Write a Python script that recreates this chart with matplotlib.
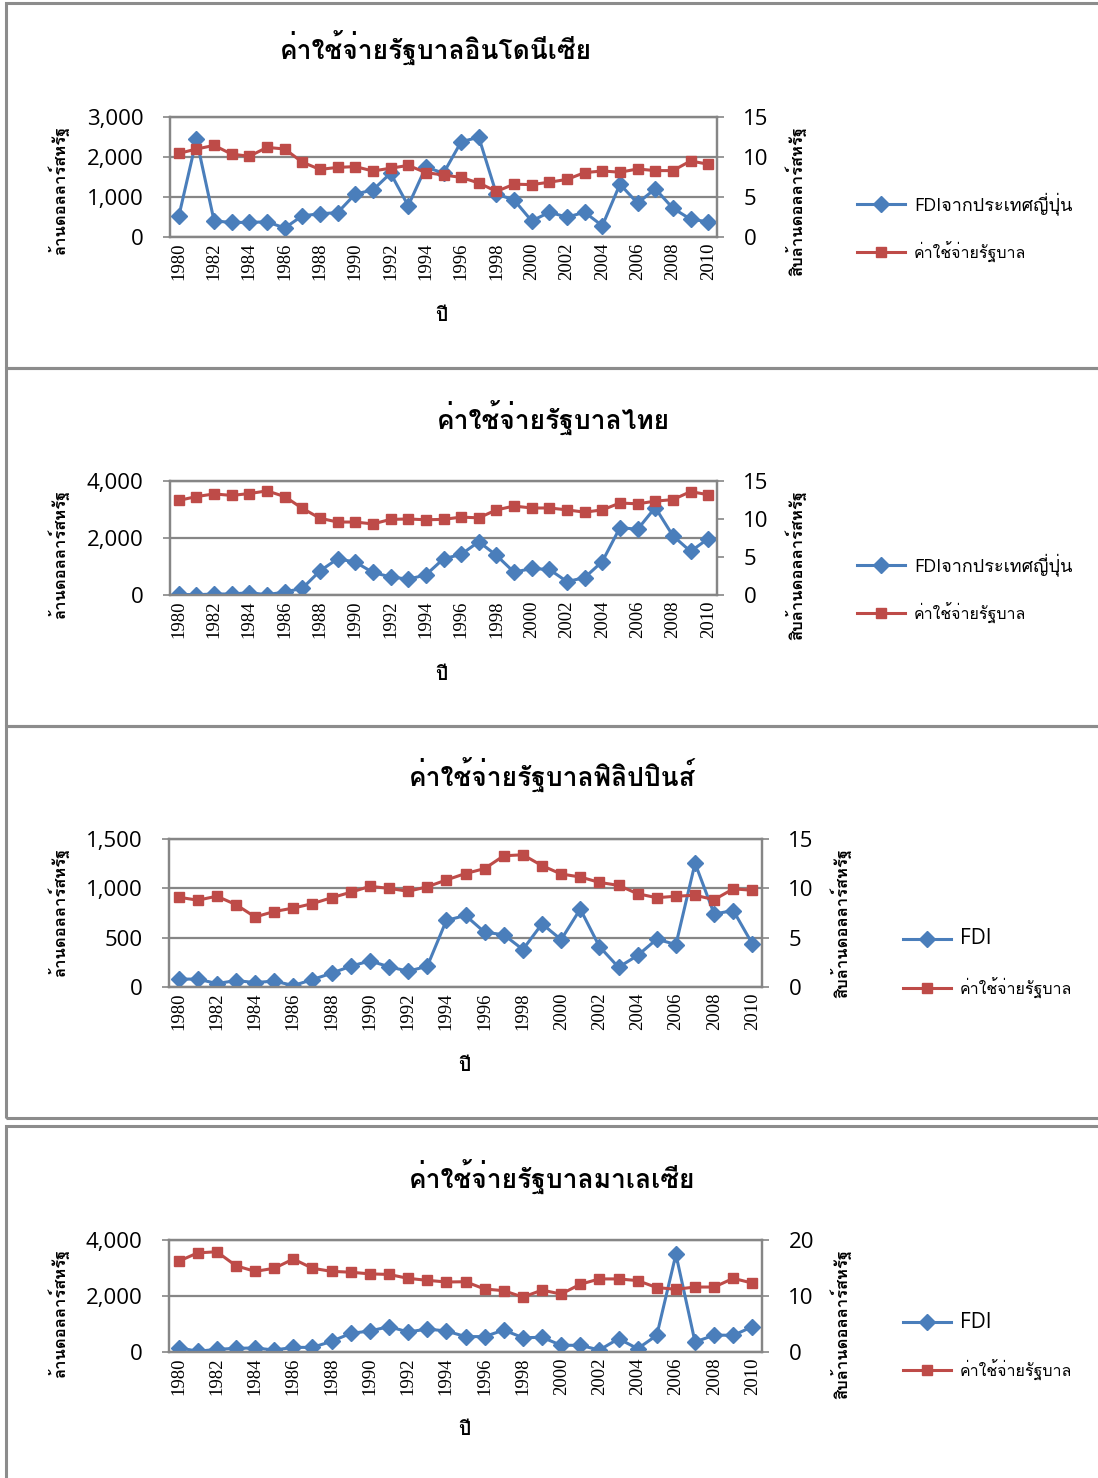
import matplotlib
matplotlib.use("Agg")
import matplotlib.pyplot as plt
from matplotlib import font_manager
from matplotlib.ft2font import FT2Font
from matplotlib.patches import Rectangle
from matplotlib.lines import Line2D

years = list(range(1980, 2011))

idn_fdi = [520, 2440, 400, 365, 365, 380, 225, 530, 580, 610, 1075, 1175, 1595, 780, 1750,
           1595, 2380, 2495, 1075, 925, 400, 620, 495, 620, 280, 1320, 845, 1205, 720, 445, 380]
idn_gov = [10.45, 11.0, 11.45, 10.35, 10.1, 11.2, 11.0, 9.35, 8.45, 8.7, 8.8, 8.25, 8.6, 8.95,
           8.05, 7.75, 7.45, 6.75, 5.7, 6.6, 6.55, 6.85, 7.2, 8.05, 8.25, 8.1, 8.5, 8.3, 8.3, 9.5, 9.1]

tha_fdi = [20, 10, 35, 35, 80, 10, 105, 235, 845, 1270, 1155, 790, 635, 555, 705, 1270,
           1425, 1870, 1390, 800, 930, 895, 470, 610, 1175, 2365, 2305, 3070, 2080, 1530, 1975]
tha_gov = [12.45, 12.95, 13.3, 13.1, 13.35, 13.7, 12.95, 11.4, 10.1, 9.6, 9.6, 9.35, 9.95, 10.0,
           9.9, 9.95, 10.25, 10.15, 11.2, 11.7, 11.45, 11.45, 11.2, 10.9, 11.2, 12.1, 12.0, 12.35,
           12.55, 13.6, 13.2]

phl_fdi = [80, 80, 35, 65, 45, 60, 15, 75, 140, 210, 265, 205, 160, 210, 675, 725, 555, 530,
           380, 640, 480, 790, 410, 200, 320, 485, 430, 1255, 740, 775, 435]
phl_gov = [9.1, 8.8, 9.2, 8.35, 7.1, 7.65, 8.0, 8.45, 9.05, 9.6, 10.2, 10.0, 9.7, 10.15, 10.85,
           11.5, 12.0, 13.3, 13.4, 12.3, 11.45, 11.15, 10.6, 10.3, 9.45, 9.05, 9.2, 9.3, 8.85,
           9.95, 9.8]

mys_fdi = [155, 25, 95, 130, 145, 70, 165, 165, 380, 665, 750, 905, 715, 820, 750, 550, 550,
           785, 510, 525, 240, 240, 70, 475, 120, 595, 3490, 355, 605, 595, 905]
mys_gov = [16.2, 17.7, 17.9, 15.4, 14.4, 14.95, 16.6, 14.95, 14.4, 14.25, 13.95, 13.85, 13.15,
           12.8, 12.5, 12.55, 11.25, 10.95, 9.8, 11.05, 10.35, 12.1, 13.05, 13.05, 12.75, 11.5,
           11.2, 11.6, 11.6, 13.15, 12.3]

titles = ["ค่าใช้จ่ายรัฐบาลอินโดนีเซีย", "ค่าใช้จ่ายรัฐบาลไทย",
          "ค่าใช้จ่ายรัฐบาลฟิลิปปินส์", "ค่าใช้จ่ายรัฐบาลมาเลเซีย"]
fdi_labels = ["FDIจากประเทศญี่ปุ่น", "FDIจากประเทศญี่ปุ่น", "FDI", "FDI"]
gov_label = "ค่าใช้จ่ายรัฐบาล"
left_ylabel = "ล้านดอลลาร์สหรัฐ"
right_ylabel = "สิบล้านดอลลาร์สหรัฐ"
xlabel = "ปี"


def find_thai_font():
    # pick any installed face that actually has Thai glyphs
    for f in font_manager.fontManager.ttflist:
        try:
            cmap = FT2Font(f.fname).get_charmap()
        except Exception:
            continue
        if 0x0E01 in cmap and 0x0E32 in cmap:
            return f.name
    return "DejaVu Sans"


thai = find_thai_font()
SANS = ["Open Sans", thai, "DejaVu Sans"]
THAI = [thai, "DejaVu Sans"]
SERIF = ["Liberation Serif", "DejaVu Serif"]

W, H = 1098, 1478
fig = plt.figure(figsize=(W / 100, H / 100), dpi=100)

BLUE = "#4A7EBB"
RED = "#BE4B48"
GRID = "#868686"


def fx(x):
    return x / W


def fy(y):
    return 1 - y / H


# panel frames
for y0, y1 in [(3, 368), (368, 726), (726, 1118), (1126, 1490)]:
    fig.patches.append(Rectangle((fx(6), fy(y1)), (W + 10) / W, (y1 - y0) / H,
                                 transform=fig.transFigure, fill=False,
                                 edgecolor="#8c8c8c", lw=2.2))

panels = [
    dict(fdi=idn_fdi, gov=idn_gov, box=(170, 117, 717, 237), ymax=3000, ystep=1000,
         y2max=15, y2step=5, title_xy=(436, 48), rlab_x=796, xlab_xy=(441, 316),
         leg=(857, 204, 252)),
    dict(fdi=tha_fdi, gov=tha_gov, box=(170, 481, 717, 595), ymax=4000, ystep=2000,
         y2max=15, y2step=5, title_xy=(553, 418), rlab_x=796, xlab_xy=(441, 675),
         leg=(857, 565, 613)),
    dict(fdi=phl_fdi, gov=phl_gov, box=(169, 839, 762, 987), ymax=1500, ystep=500,
         y2max=15, y2step=5, title_xy=(552, 775), rlab_x=841, xlab_xy=(464, 1066),
         leg=(903, 939, 988)),
    dict(fdi=mys_fdi, gov=mys_gov, box=(169, 1240, 762, 1352), ymax=4000, ystep=2000,
         y2max=20, y2step=10, title_xy=(552, 1177), rlab_x=841, xlab_xy=(464, 1430),
         leg=(903, 1322, 1370)),
]

for i, p in enumerate(panels):
    x0, y0, x1, y1 = p["box"]
    ax = fig.add_axes([fx(x0), fy(y1), (x1 - x0) / W, (y1 - y0) / H])
    ax2 = ax.twinx()

    ax.plot(years, p["fdi"], color=BLUE, lw=2.2, marker="D", ms=8.5,
            markeredgecolor=BLUE, zorder=3)
    ax2.plot(years, p["gov"], color=RED, lw=2.2, marker="s", ms=7,
             markeredgecolor=RED, zorder=3)

    ax.set_xlim(1979.5, 2010.5)
    ax.set_ylim(0, p["ymax"])
    ax2.set_ylim(0, p["y2max"])
    yt = list(range(0, p["ymax"] + 1, p["ystep"]))
    ax.set_yticks(yt)
    ax.set_yticklabels([f"{v:,}" for v in yt], family=SANS, fontsize=16)
    yt2 = list(range(0, p["y2max"] + 1, p["y2step"]))
    ax2.set_yticks(yt2)
    ax2.set_yticklabels([str(v) for v in yt2], family=SANS, fontsize=16)
    ax.set_xticks(years[::2])
    ax.set_xticklabels([str(y) for y in years[::2]], rotation=90, family=SERIF,
                       fontsize=13.5)
    ax.tick_params(axis="x", length=0, pad=4)
    ax.tick_params(axis="y", length=5, width=1.2, color=GRID, pad=14)
    ax2.tick_params(axis="y", length=5, width=1.2, color=GRID, pad=14)

    ax.grid(axis="y", color=GRID, lw=1.6)
    ax.set_axisbelow(True)
    for a in (ax, ax2):
        for s in a.spines.values():
            s.set_color(GRID)
            s.set_linewidth(1.6)

    # axis titles
    fig.text(fx(58), fy(y0 + 9), left_ylabel, family=THAI, fontsize=12,
             fontweight="bold", rotation=90, ha="center", va="top")
    fig.text(fx(p["rlab_x"]), fy(y0 + 9), right_ylabel, family=THAI, fontsize=12,
             fontweight="bold", rotation=90, ha="center", va="top")

    tx, ty = p["title_xy"]
    fig.text(fx(tx), fy(ty), titles[i], family=THAI, fontsize=19,
             fontweight="bold", ha="center", va="center")
    lx, ly = p["xlab_xy"]
    fig.text(fx(lx), fy(ly), xlabel, family=THAI, fontsize=14, fontweight="bold",
             ha="center", va="center")

    # legend, drawn row by row
    gx, r1, r2 = p["leg"]
    rows = [(r1, BLUE, "D", 8.5, fdi_labels[i], 13 if i < 2 else 15),
            (r2, RED, "s", 7, gov_label, 11.5)]
    for ry, col, mk, ms, label, fs in rows:
        fig.add_artist(Line2D([fx(gx), fx(gx + 48)], [fy(ry), fy(ry)], color=col, lw=2.2,
                              transform=fig.transFigure))
        fig.add_artist(Line2D([fx(gx + 24)], [fy(ry)], color=col, marker=mk, ms=ms,
                              markeredgecolor=col, transform=fig.transFigure))
        fig.text(fx(gx + 57), fy(ry), label, family=SANS, fontsize=fs,
                 ha="left", va="center")

fig.savefig("out.png", dpi=100, facecolor="white")
